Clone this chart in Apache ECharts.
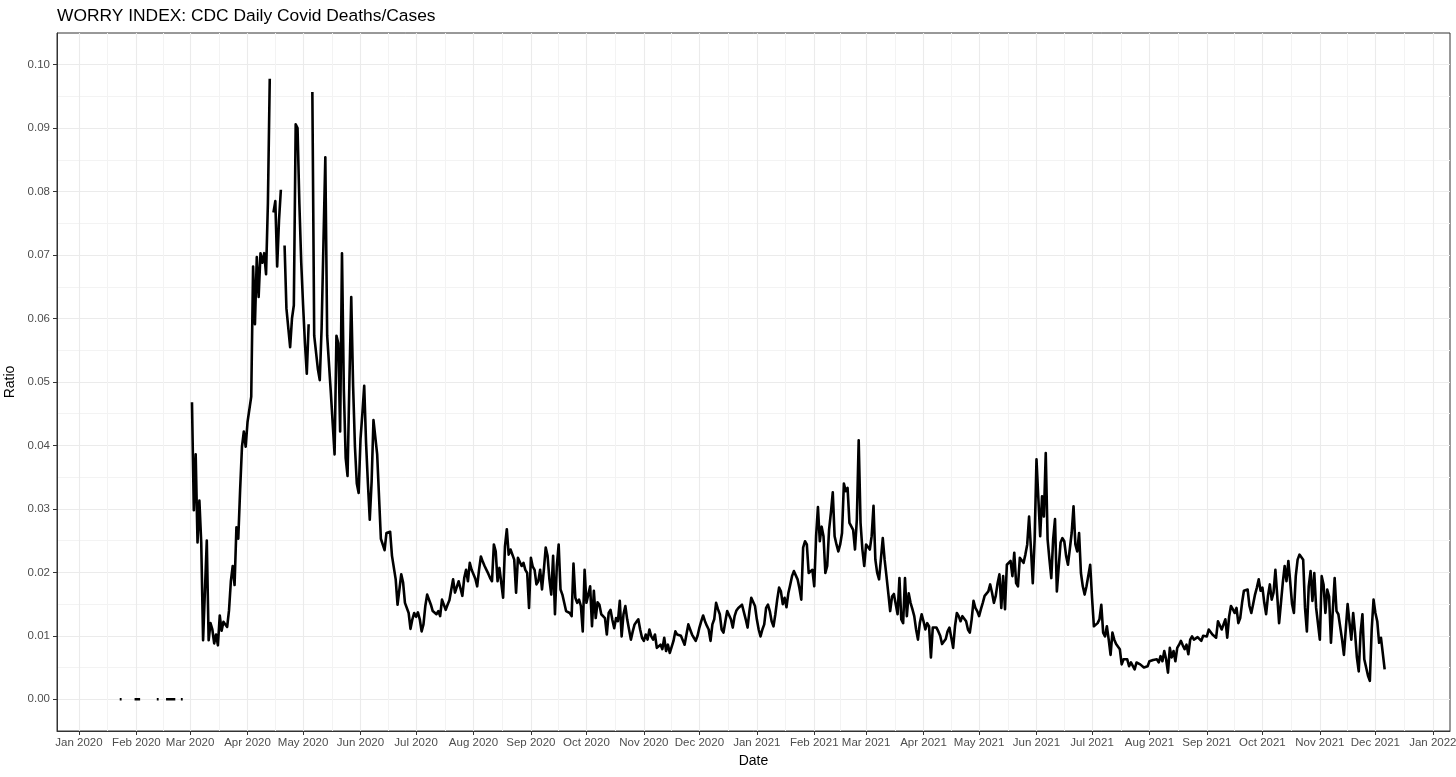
<!DOCTYPE html>
<html>
<head>
<meta charset="utf-8">
<script src="https://cdn.jsdelivr.net/npm/echarts@6/dist/echarts.min.js"></script>
<style>
html,body{margin:0;padding:0;background:#fff;}
#chart{width:1456px;height:777px;}
</style>
</head>
<body>
<div id="chart"></div>
<script>
// ---- Data -------------------------------------------------------------
const chartTitle = 'WORRY INDEX: CDC Daily Covid Deaths/Cases';
const xTitle = 'Date';
const yTitle = 'Ratio';
// first day of the daily series (year, monthIndex, day)
const firstDay = [2020, 0, 23];
// daily deaths/cases ratio, one value per day starting at firstDay (null = no value)
const ratio = [
  0,0,null,null,null,null,null,null,0,0,
  0,0,null,null,null,null,null,null,null,null,
  0,0,null,null,null,0,0,0,0,0,
  0,null,null,0,0,null,null,null,null,
  // Mar 2 2020
  0.0468,0.0298,0.0386,0.0247,0.0313,0.0247,0.0093,0.0095,0.0250,0.0093,
  0.0120,0.0110,0.0088,0.0102,0.0085,0.0132,0.0108,0.0122,0.0118,0.0114,
  0.0140,0.0186,0.0210,0.0180,0.0271,0.0253,0.0330,0.0398,0.0422,0.0398,
  0.0437,0.0437,0.0477,0.0682,0.0591,0.0697,0.0634,0.0703,0.0688,0.0703,
  0.0670,0.0782,0.0978,null,0.0767,0.0785,0.0682,0.0755,0.0803,null,
  0.0715,0.0616,0.0613,0.0555,0.0600,0.0621,0.0906,0.0900,0.0780,0.0688,
  0.0621,0.0561,0.0513,0.0591,null,0.0957,0.0573,0.0570,0.0520,0.0503,
  0.0585,0.0720,0.0854,0.0573,0.0573,0.0482,0.0482,0.0386,0.0573,0.0561,
  0.0422,0.0703,0.0488,0.0380,0.0352,0.0500,0.0634,0.0494,0.0398,0.0340,
  0.0325,0.0410,0.0450,0.0494,0.0404,0.0340,0.0283,0.0343,0.0440,0.0443,
  0.0386,0.0386,0.0253,0.0253,0.0235,0.0262,0.0264,0.0264,0.0226,0.0226,
  0.0189,0.0149,0.0173,0.0197,0.0184,0.0152,0.0151,0.0136,0.0111,0.0126,
  0.0136,0.0130,0.0137,0.0126,0.0107,0.0118,0.0147,0.0165,0.0163,0.0149,
  0.0139,0.0136,0.0134,0.0139,0.0131,0.0157,0.0155,0.0141,0.0149,0.0156,
  0.0157,0.0189,0.0168,0.0171,0.0186,0.0189,0.0163,0.0191,0.0204,0.0186,
  0.0215,0.0204,0.0204,0.0190,0.0178,0.0204,0.0225,0.0217,0.0210,0.0204,
  0.0198,0.0191,0.0186,0.0244,0.0233,0.0186,0.0207,0.0207,0.0160,0.0241,
  0.0268,0.0228,0.0236,0.0236,0.0220,0.0168,0.0223,0.0221,0.0210,0.0215,
  0.0204,0.0199,0.0144,0.0223,0.0209,0.0204,0.0181,0.0186,0.0204,0.0173,
  0.0204,0.0239,0.0226,0.0189,0.0165,0.0226,0.0134,0.0210,0.0244,0.0173,
  0.0165,0.0152,0.0139,0.0138,0.0136,0.0131,0.0214,0.0160,0.0152,0.0157,
  0.0147,0.0107,0.0204,0.0152,0.0165,0.0178,0.0115,0.0171,0.0128,0.0153,
  0.0149,0.0134,0.0131,0.0128,0.0102,0.0136,0.0141,0.0125,0.0112,0.0128,
  0.0123,0.0155,0.0099,0.0134,0.0147,0.0126,0.0110,0.0094,0.0107,0.0118,
  0.0122,0.0126,0.0110,0.0097,0.0092,0.0102,0.0094,0.0110,0.0099,0.0094,
  0.0102,0.0081,0.0084,0.0086,0.0079,0.0097,0.0076,0.0086,0.0073,0.0071,
  0.0092,0.0107,0.0102,0.0104,0.0100,0.0097,0.0086,0.0102,0.0118,0.0110,
  0.0102,0.0097,0.0092,0.0100,0.0113,0.0123,0.0132,0.0123,0.0116,0.0110,
  0.0092,0.0118,0.0126,0.0152,0.0142,0.0134,0.0110,0.0105,0.0123,0.0139,
  0.0136,0.0126,0.0113,0.0131,0.0140,0.0144,0.0142,0.0149,0.0149,0.0126,
  0.0113,0.0139,0.0160,0.0163,0.0147,0.0126,0.0110,0.0099,0.0110,0.0118,
  0.0144,0.0149,0.0139,0.0123,0.0115,0.0134,0.0157,0.0176,0.0170,0.0150,
  0.0160,0.0145,0.0167,0.0180,0.0194,0.0202,0.0199,0.0189,0.0175,0.0157,
  0.0239,0.0249,0.0244,0.0199,0.0202,0.0204,0.0178,0.0257,0.0303,0.0249,
  0.0272,0.0257,0.0199,0.0210,0.0267,0.0294,0.0326,0.0257,0.0244,0.0233,
  0.0244,0.0262,0.0340,0.0328,0.0333,0.0278,0.0275,0.0267,0.0236,0.0283,
  0.0408,0.0278,0.0236,0.0210,0.0244,0.0241,0.0236,0.0257,0.0305,0.0220,
  0.0199,0.0189,0.0189,0.0254,0.0220,0.0194,0.0167,0.0139,0.0162,0.0166,
  0.0167,0.0134,0.0191,0.0126,0.0120,0.0191,0.0131,0.0167,0.0152,0.0142,
  0.0131,0.0110,0.0094,0.0120,0.0134,0.0123,0.0110,0.0120,0.0115,0.0066,
  0.0113,0.0110,0.0113,0.0107,0.0100,0.0087,0.0084,0.0095,0.0107,0.0113,
  0.0110,0.0081,0.0115,0.0136,0.0131,0.0123,0.0131,0.0131,0.0123,0.0110,
  0.0105,0.0126,0.0155,0.0144,0.0139,0.0131,0.0142,0.0152,0.0163,0.0160,
  0.0170,0.0181,0.0168,0.0152,0.0163,0.0183,0.0197,0.0144,0.0194,0.0142,
  0.0212,0.0215,0.0218,0.0194,0.0231,0.0183,0.0178,0.0223,0.0220,0.0215,
  0.0228,0.0244,0.0288,0.0238,0.0183,0.0252,0.0378,0.0317,0.0257,0.0320,
  0.0288,0.0388,0.0252,0.0220,0.0191,0.0252,0.0284,0.0170,0.0173,0.0247,
  0.0254,0.0249,0.0226,0.0212,0.0210,0.0262,0.0304,0.0244,0.0233,0.0262,
  0.0199,0.0178,0.0165,0.0178,0.0181,0.0212,0.0160,0.0115,0.0115,0.0120,
  0.0126,0.0149,0.0105,0.0099,0.0115,0.0094,0.0070,0.0105,0.0094,0.0087,
  0.0089,0.0079,0.0055,0.0063,0.0060,0.0063,0.0052,0.0058,0.0060,0.0047,
  0.0058,0.0059,0.0055,0.0052,0.0050,0.0050,0.0052,0.0060,0.0063,0.0062,
  0.0060,0.0063,0.0058,0.0068,0.0060,0.0076,0.0063,0.0042,0.0081,0.0066,
  0.0076,0.0060,0.0081,0.0086,0.0092,0.0085,0.0079,0.0086,0.0071,0.0094,
  0.0099,0.0094,0.0097,0.0098,0.0097,0.0092,0.0100,0.0102,0.0099,0.0110,
  0.0107,0.0102,0.0099,0.0097,0.0123,0.0126,0.0110,0.0118,0.0126,0.0097,
  0.0130,0.0147,0.0142,0.0136,0.0144,0.0120,0.0128,0.0152,0.0171,0.0168,
  0.0173,0.0147,0.0136,0.0150,0.0165,0.0176,0.0189,0.0171,0.0176,0.0152,
  0.0134,0.0163,0.0181,0.0157,0.0168,0.0204,0.0163,0.0120,0.0120,0.0184,
  0.0210,0.0186,0.0218,0.0185,0.0150,0.0136,0.0194,0.0220,0.0228,0.0231,
  0.0220,0.0144,0.0107,0.0178,0.0202,0.0155,0.0199,0.0144,0.0141,0.0094,
  0.0194,0.0181,0.0136,0.0173,0.0162,0.0089,0.0089,0.0191,0.0139,0.0134,
  0.0131,0.0094,0.0070,0.0070,0.0150,0.0121,0.0094,0.0136,0.0105,0.0066,
  0.0044,0.0105,0.0134,0.0063,0.0060,0.0037,0.0029,0.0110,0.0157,0.0136,
  0.0123,0.0089,0.0097,0.0094,0.0047
];
// x tick labels (first of each month)
const xTickLabels = [
  'Jan 2020','Feb 2020','Mar 2020','Apr 2020','May 2020','Jun 2020','Jul 2020','Aug 2020',
  'Sep 2020','Oct 2020','Nov 2020','Dec 2020','Jan 2021','Feb 2021','Mar 2021','Apr 2021',
  'May 2021','Jun 2021','Jul 2021','Aug 2021','Sep 2021','Oct 2021','Nov 2021','Dec 2021','Jan 2022'
];
const xTickStart = [2020, 0]; // year, month of first tick
// y tick labels
const yTicks = [0, 0.01, 0.02, 0.03, 0.04, 0.05, 0.06, 0.07, 0.08, 0.09, 0.10];
const yMinor = [0.005, 0.015, 0.025, 0.035, 0.045, 0.055, 0.065, 0.075, 0.085, 0.095];
// axis limits
const yMin = -0.005, yMax = 0.105;
const xMinDate = [2019, 11, 20.12];
const xMaxDate = [2022, 0, 10.28];

// ---- Build --------------------------------------------------------------
const DAY = 86400000;
const seriesData = ratio.map((v, i) => [new Date(firstDay[0], firstDay[1], firstDay[2] + i).getTime(), v]);
const xMajor = xTickLabels.map((_, i) => new Date(xTickStart[0], xTickStart[1] + i, 1).getTime());
const labelByTime = {};
xMajor.forEach((t, i) => { labelByTime[t] = xTickLabels[i]; });
const xMinorVals = [];
for (let i = 0; i < xMajor.length - 1; i++) xMinorVals.push((xMajor[i] + xMajor[i + 1]) / 2);
function dateMs(a) {
  const whole = Math.floor(a[2]);
  return new Date(a[0], a[1], whole).getTime() + (a[2] - whole) * DAY;
}
const xMin = dateMs(xMinDate), xMax = dateMs(xMaxDate);
function labelFor(v) {
  let best = '', bd = Infinity;
  for (const t of xMajor) { const d = Math.abs(t - v); if (d < bd) { bd = d; best = labelByTime[t]; } }
  return bd < DAY ? best : '';
}

const FONT = '"Liberation Sans", Arial, Helvetica, sans-serif';
const chart = echarts.init(document.getElementById('chart'), null, {renderer: 'canvas'});
chart.setOption({
  animation: false,
  backgroundColor: '#ffffff',
  title: {
    text: chartTitle,
    left: 52, top: 3,
    textStyle: {fontFamily: FONT, fontSize: 17.4, fontWeight: 'normal', color: '#000'}
  },
  grid: {
    left: 57, right: 6, top: 33, bottom: 46,
    outerBoundsMode: 'none',
    show: true, borderColor: '#333333', borderWidth: 1, backgroundColor: 'transparent',
    containLabel: false
  },
  xAxis: [
    {
      type: 'value', min: xMin, max: xMax, position: 'bottom', scale: true,
      name: xTitle, nameLocation: 'middle', nameGap: 22,
      nameTextStyle: {fontFamily: FONT, fontSize: 14, color: '#000'},
      axisLine: {show: true, onZero: false, lineStyle: {color: '#333333', width: 1}},
      axisTick: {show: true, length: 4, customValues: xMajor, lineStyle: {color: '#333333'}},
      axisLabel: {
        show: true, customValues: xMajor, margin: 6, hideOverlap: false,
        showMinLabel: true, showMaxLabel: true,
        fontFamily: FONT, fontSize: 11.5, color: '#4d4d4d',
        formatter: (v) => labelFor(v)
      },
      splitLine: {show: true, lineStyle: {color: '#ebebeb', width: 1.1}}
    },
    {
      type: 'value', min: xMin, max: xMax, position: 'bottom', scale: true,
      axisLine: {show: false, onZero: false},
      axisTick: {show: false, customValues: xMinorVals},
      axisLabel: {show: false, customValues: xMinorVals},
      splitLine: {show: true, lineStyle: {color: '#f3f3f3', width: 1}}
    }
  ],
  yAxis: [
    {
      type: 'value', min: yMin, max: yMax, position: 'left',
      name: yTitle, nameLocation: 'middle', nameGap: 35, nameRotate: 90,
      nameTextStyle: {fontFamily: FONT, fontSize: 14, color: '#000'},
      axisLine: {show: true, onZero: false, lineStyle: {color: '#333333', width: 1}},
      axisTick: {show: true, length: 4, customValues: yTicks, lineStyle: {color: '#333333'}},
      axisLabel: {
        show: true, customValues: yTicks, margin: 7,
        fontFamily: FONT, fontSize: 11.5, color: '#4d4d4d',
        formatter: (v) => v.toFixed(2)
      },
      splitLine: {show: true, lineStyle: {color: '#ebebeb', width: 1.1}}
    },
    {
      type: 'value', min: yMin, max: yMax, position: 'left',
      axisLine: {show: false, onZero: false},
      axisTick: {show: false, customValues: yMinor},
      axisLabel: {show: false, customValues: yMinor},
      splitLine: {show: true, lineStyle: {color: '#f3f3f3', width: 1}}
    }
  ],
  series: [{
    type: 'line',
    xAxisIndex: 0, yAxisIndex: 0,
    data: seriesData,
    showSymbol: false,
    connectNulls: false,
    sampling: null,
    lineStyle: {color: '#000000', width: 2.6, join: 'round', cap: 'butt'},
    emphasis: {disabled: true}
  }]
});
</script>
</body>
</html>
